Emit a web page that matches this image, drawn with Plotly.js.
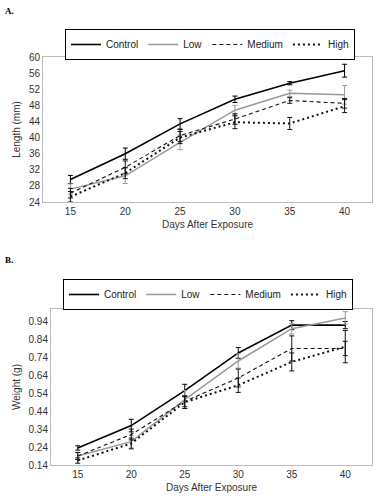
<!DOCTYPE html>
<html><head><meta charset="utf-8">
<script src="https://cdn.plot.ly/plotly-3.0.1.min.js"></script>
<style>body{margin:0;background:#fff}#c{width:377px;height:500px}</style>
</head><body><div id="c"></div>
<script>
const days = [15, 20, 25, 30, 35, 40];
const seriesNames = ["Control", "Low", "Medium", "High"];
// Panel A: Length (mm)
const lenControl = [29.6, 36.0, 43.4, 49.5, 53.5, 56.6];
const lenLow     = [27.2, 30.5, 38.8, 46.8, 51.0, 50.6];
const lenMedium  = [26.2, 32.6, 40.5, 44.6, 49.2, 48.5];
const lenHigh    = [25.3, 31.2, 40.0, 43.8, 43.5, 47.8];
const lenErrControl = [1.0, 1.4, 1.3, 0.8, 0.4, 1.6];
const lenErrLow     = [1.3, 1.9, 1.8, 1.2, 0.8, 2.3];
const lenErrMedium  = [1.2, 1.6, 1.5, 1.3, 0.7, 1.2];
const lenErrHigh    = [1.3, 1.4, 1.5, 1.6, 1.5, 1.6];
// Panel B: Weight (g)
const wtControl = [0.235, 0.36, 0.555, 0.765, 0.92, 0.92];
const wtLow     = [0.19, 0.27, 0.505, 0.72, 0.90, 0.96];
const wtMedium  = [0.19, 0.31, 0.495, 0.625, 0.79, 0.79];
const wtHigh    = [0.165, 0.26, 0.49, 0.585, 0.715, 0.80];
const wtErrControl = [0.012, 0.035, 0.035, 0.03, 0.025, 0.02];
const wtErrLow     = [0.02, 0.035, 0.05, 0.04, 0.03, 0.035];
const wtErrMedium  = [0.02, 0.03, 0.03, 0.05, 0.07, 0.04];
const wtErrHigh    = [0.015, 0.03, 0.035, 0.04, 0.05, 0.09];
const yTicksA = [24, 28, 32, 36, 40, 44, 48, 52, 56, 60];
const yTicksB = [0.14, 0.24, 0.34, 0.44, 0.54, 0.64, 0.74, 0.84, 0.94];

const styles = [
  {color: "#000", dash: "solid", width: 1.6},
  {color: "#999", dash: "solid", width: 1.5},
  {color: "#111", dash: "4px,3px", width: 1.1},
  {color: "#111", dash: "2px,3px", width: 2}
];
function mk(y, err, i, xa, ya, leg) {
  return {
    x: days, y: y, type: "scatter", mode: "lines", name: seriesNames[i],
    xaxis: xa, yaxis: ya, legend: leg, showlegend: true,
    line: {color: styles[i].color, dash: styles[i].dash, width: styles[i].width},
    error_y: {type: "data", array: err, visible: true, color: styles[i].color, thickness: 1, width: 2.5}
  };
}
const A = [lenControl, lenLow, lenMedium, lenHigh];
const AE = [lenErrControl, lenErrLow, lenErrMedium, lenErrHigh];
const B = [wtControl, wtLow, wtMedium, wtHigh];
const BE = [wtErrControl, wtErrLow, wtErrMedium, wtErrHigh];
const data = [];
for (let i = 0; i < 4; i++) data.push(mk(A[i], AE[i], i, "x", "y", "legend"));
for (let i = 0; i < 4; i++) data.push(mk(B[i], BE[i], i, "x2", "y2", "legend2"));

const font = {family: "Liberation Sans, Arial, sans-serif", size: 10, color: "#333"};
const axX = {
  range: [12.5, 42.5], tickvals: days, ticktext: days.map(String),
  showgrid: false, zeroline: false, showline: true, mirror: true, linecolor: "#bbb", linewidth: 1,
  ticks: "", tickfont: {size: 10, color: "#333"},
  title: {text: "Days After Exposure", font: {size: 10, color: "#333"}, standoff: 4}
};
const legendBase = {
  orientation: "h", xanchor: "center", yanchor: "top",
  bordercolor: "#000", borderwidth: 1, bgcolor: "#fff",
  font: {size: 10, color: "#222"}, itemwidth: 30, tracegroupgap: 0, traceorder: "normal"
};
const layout = {
  width: 377, height: 500, margin: {l: 0, r: 0, t: 0, b: 0},
  paper_bgcolor: "#fff", plot_bgcolor: "#fff", font: font,
  xaxis: Object.assign({}, axX, {domain: [43/377, 372/377], anchor: "y"}),
  yaxis: {domain: [1-202/500, 1-57/500], anchor: "x", range: [24, 60], tickvals: yTicksA,
    showgrid: false, zeroline: false, showline: true, mirror: true, linecolor: "#bbb", ticks: "",
    tickfont: {size: 10, color: "#333"}, title: {text: "Length (mm)", font: {size: 10, color: "#333"}, standoff: 6}},
  xaxis2: Object.assign({}, axX, {domain: [51/377, 372/377], anchor: "y2"}),
  yaxis2: {domain: [1-465/500, 1-309/500], anchor: "x2", range: [0.14, 1.01], tickvals: yTicksB,
    ticktext: yTicksB.map(v => v.toFixed(2)),
    showgrid: false, zeroline: false, showline: true, mirror: true, linecolor: "#bbb", ticks: "",
    tickfont: {size: 10, color: "#333"}, title: {text: "Weight (g)", font: {size: 10, color: "#333"}, standoff: 6}},
  legend: Object.assign({}, legendBase, {x: 210/377, y: 1-29/500}),
  legend2: Object.assign({}, legendBase, {x: 208/377, y: 1-279/500}),
  annotations: [
    {text: "<b>A.</b>", xref: "paper", yref: "paper", x: 3/377, y: 1-4/500, xanchor: "left", yanchor: "top",
     showarrow: false, font: {family: "Liberation Serif, serif", size: 9, color: "#000"}},
    {text: "<b>B.</b>", xref: "paper", yref: "paper", x: 3/377, y: 1-253/500, xanchor: "left", yanchor: "top",
     showarrow: false, font: {family: "Liberation Serif, serif", size: 9, color: "#000"}}
  ]
};
Plotly.newPlot("c", data, layout, {displayModeBar: false, staticPlot: true});
</script></body></html>
